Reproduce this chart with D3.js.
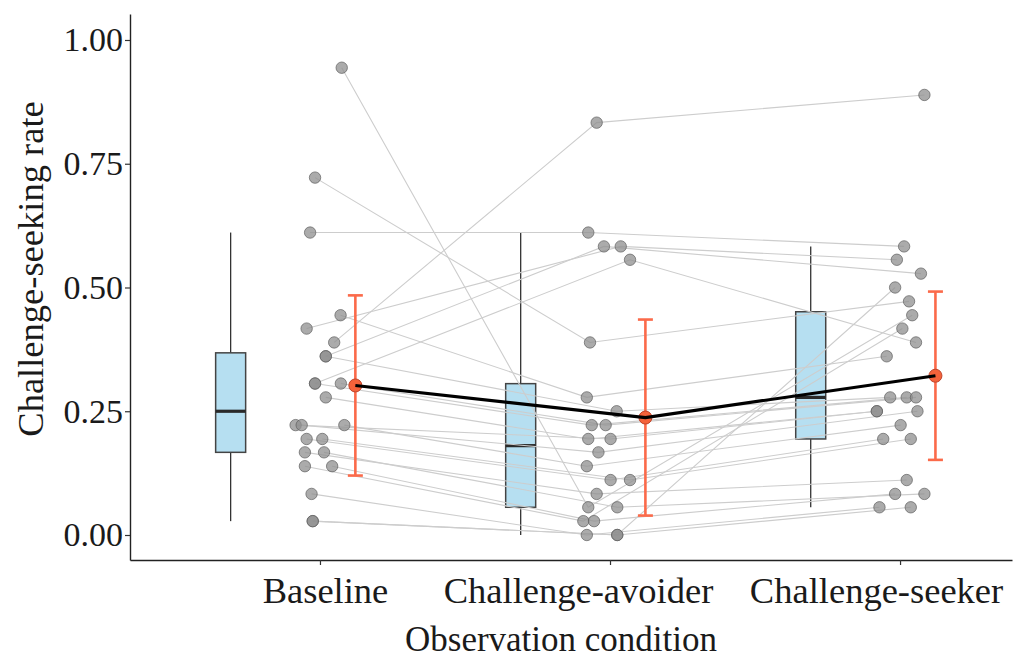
<!DOCTYPE html>
<html>
<head>
<meta charset="utf-8">
<script src="https://cdn.jsdelivr.net/npm/d3@7"></script>
<style>
  body { margin: 0; background: #ffffff; }
  svg { display: block; }
  text { font-family: "Liberation Serif", "Times New Roman", serif; }
</style>
</head>
<body>
<svg id="chart" width="1024" height="660"></svg>
<script>
// Conditions on the x axis
const conditions = ["Baseline", "Challenge-avoider", "Challenge-seeker"];

// Challenge-seeking rate per participant (same participant order in every array)
const baseline = [0.944, 0.722, 0.611, 0.389, 0.444, 0.417, 0.361, 0.306, 0.361, 0.306, 0.306, 0.278,
                  0.222, 0.222, 0.222, 0.194, 0.194, 0.167, 0.167, 0.139, 0.139, 0.083, 0.028, 0.028];
const avoider  = [0.056, 0.389, 0.611, 0.833, 0.278, 0.583, 0.583, 0.556, 0.250, 0.222, 0.222, 0.194,
                  0.194, 0.167, 0.139, 0.111, 0.111, 0.083, 0.056, 0.028, 0.028, 0.000, 0.000, 0.000];
const seeker   = [0.444, 0.472, 0.583, 0.889, 0.361, 0.556, 0.528, 0.389, 0.278, 0.278, 0.278, 0.250,
                  0.250, 0.250, 0.222, 0.194, 0.194, 0.111, 0.083, 0.417, 0.083, 0.056, 0.500, 0.056];

// Horizontal jitter of each participant's point (in category units)
const jitterBaseline = [0.075, -0.017, -0.034, 0.049, 0.071, -0.046, 0.020, -0.017, 0.020, -0.017, 0.072, 0.020,
                        -0.084, -0.063, 0.084, -0.046, 0.008, -0.052, 0.014, -0.052, 0.042, -0.029, -0.025, -0.025];
const jitterAvoider  = [-0.075, -0.069, -0.075, -0.046, -0.080, 0.037, -0.021, 0.069, 0.023, -0.063, -0.015, -0.075,
                        0.002, -0.040, -0.080, 0.002, 0.069, -0.046, 0.025, -0.092, -0.055, -0.080, 0.025, 0.025];
const jitterSeeker   = [0.042, 0.031, 0.014, 0.084, -0.046, -0.011, 0.072, 0.055, -0.034, 0.023, 0.055, -0.080,
                        -0.080, 0.060, 0.002, -0.058, 0.037, 0.023, 0.084, 0.008, -0.017, -0.071, -0.017, 0.037];

// Half-length of the error bar around each condition mean
const errHalf = [0.182, 0.198, 0.170];

const yTicks = [0, 0.25, 0.5, 0.75, 1];

// ---------------------------------------------------------------
const series = [baseline, avoider, seeker];
const jitters = [jitterBaseline, jitterAvoider, jitterSeeker];

const svg = d3.select("#chart");

const x = d3.scaleLinear().domain([0.345, 3.386]).range([130, 1012]);
const y = d3.scaleLinear().domain([-0.0505, 1.0525]).range([560, 14]);

const boxOffset = -0.308;   // boxplot sits left of the tick
const boxHalfW = 15;        // px
const meanOffset = 0.122;   // mean + error bar sit right of the tick
const capHalfW = 7.5;
const labelShift = [5, -32, -24];  // keeps the wide category labels inside the page

const serif = '"Liberation Serif", "Times New Roman", serif';

// ---- box plots (Tukey whiskers, outliers hidden)
function boxStats(vals) {
  const s = vals.slice().sort(d3.ascending);
  const q1 = d3.quantile(s, 0.25), med = d3.quantile(s, 0.5), q3 = d3.quantile(s, 0.75);
  const iqr = q3 - q1;
  const lo = d3.min(s.filter(v => v >= q1 - 1.5 * iqr));
  const hi = d3.max(s.filter(v => v <= q3 + 1.5 * iqr));
  return { q1, med, q3, lo, hi };
}

const gBox = svg.append("g");
series.forEach((vals, i) => {
  const st = boxStats(vals);
  const cx = x(i + 1 + boxOffset);
  gBox.append("line").attr("x1", cx).attr("x2", cx).attr("y1", y(st.hi)).attr("y2", y(st.q3))
    .attr("stroke", "#333").attr("stroke-width", 1.3);
  gBox.append("line").attr("x1", cx).attr("x2", cx).attr("y1", y(st.q1)).attr("y2", y(st.lo))
    .attr("stroke", "#333").attr("stroke-width", 1.3);
  gBox.append("rect").attr("x", cx - boxHalfW).attr("width", boxHalfW * 2)
    .attr("y", y(st.q3)).attr("height", y(st.q1) - y(st.q3))
    .attr("fill", "#b6dff1").attr("stroke", "#444").attr("stroke-width", 1.5);
  gBox.append("line").attr("x1", cx - boxHalfW).attr("x2", cx + boxHalfW)
    .attr("y1", y(st.med)).attr("y2", y(st.med))
    .attr("stroke", "#2a2a2a").attr("stroke-width", 3.2);
});

// ---- participant trajectories
const px = (c, k) => x(c + 1 + jitters[c][k]);
const gLines = svg.append("g");
baseline.forEach((_, k) => {
  const pts = [0, 1, 2].map(c => [px(c, k), y(series[c][k])]);
  gLines.append("path").attr("d", d3.line()(pts))
    .attr("fill", "none").attr("stroke", "#cdcdcd").attr("stroke-width", 1.1);
});

// ---- individual points
const gDots = svg.append("g");
series.forEach((vals, c) => {
  gDots.selectAll(null).data(vals).join("circle")
    .attr("cx", (d, k) => px(c, k)).attr("cy", d => y(d)).attr("r", 5.7)
    .attr("fill", "#8f8f8f").attr("fill-opacity", 0.75)
    .attr("stroke", "#5f5f5f").attr("stroke-opacity", 0.7).attr("stroke-width", 1);
});

// ---- means with error bars
const means = series.map(v => d3.mean(v));
const gMean = svg.append("g");
means.forEach((m, i) => {
  const cx = x(i + 1 + meanOffset);
  const top = y(m + errHalf[i]), bot = y(m - errHalf[i]);
  gMean.append("line").attr("x1", cx).attr("x2", cx).attr("y1", top).attr("y2", bot)
    .attr("stroke", "#fb6a4a").attr("stroke-width", 2.6);
  [top, bot].forEach(yy => gMean.append("line")
    .attr("x1", cx - capHalfW).attr("x2", cx + capHalfW).attr("y1", yy).attr("y2", yy)
    .attr("stroke", "#fb6a4a").attr("stroke-width", 2.6));
  gMean.append("circle").attr("cx", cx).attr("cy", y(m)).attr("r", 6.5)
    .attr("fill", "#f4623a").attr("stroke", "#c0442a").attr("stroke-width", 1);
});
gMean.append("path")
  .attr("d", d3.line()(means.map((m, i) => [x(i + 1 + meanOffset), y(m)])))
  .attr("fill", "none").attr("stroke", "#000").attr("stroke-width", 3.2);

// ---- axes
const yAxis = svg.append("g").attr("transform", "translate(130,0)")
  .call(d3.axisLeft(y).tickValues(yTicks).tickFormat(d3.format(".2f"))
        .tickSize(5).tickSizeOuter(0).tickPadding(2));
const xAxis = svg.append("g").attr("transform", "translate(0,560)")
  .call(d3.axisBottom(x).tickValues([1, 2, 3]).tickFormat(i => conditions[i - 1])
        .tickSize(5).tickSizeOuter(0).tickPadding(12));
[yAxis, xAxis].forEach(g => {
  g.select(".domain").attr("stroke", "#222").attr("stroke-width", 1.4);
  g.selectAll(".tick line").attr("stroke", "#333").attr("stroke-width", 1.2);
  g.selectAll(".tick text").attr("fill", "#1a1a1a").style("font-family", serif);
});
yAxis.selectAll(".tick text").style("font-size", "34px");
xAxis.selectAll(".tick text").style("font-size", "36.5px")
  .attr("dx", d => labelShift[d - 1]);

// ---- axis titles
svg.append("text").attr("x", 561).attr("y", 651).attr("text-anchor", "middle")
  .attr("fill", "#1a1a1a").style("font-size", "35px").text("Observation condition");
svg.append("text").attr("transform", "translate(43,269) rotate(-90)").attr("text-anchor", "middle")
  .attr("fill", "#1a1a1a").style("font-size", "36.5px").text("Challenge-seeking rate");
</script>
</body>
</html>
